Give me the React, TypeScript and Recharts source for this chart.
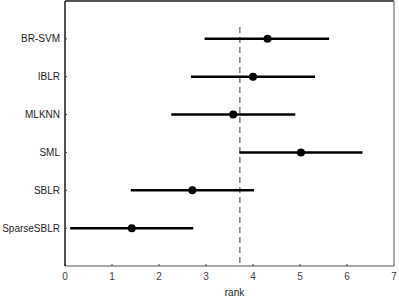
import React from 'react';
import {
  ScatterChart,
  Scatter,
  XAxis,
  YAxis,
  ErrorBar,
  ReferenceLine
} from 'recharts';

// methods, top to bottom
const methods = ['BR-SVM', 'IBLR', 'MLKNN', 'SML', 'SBLR', 'SparseSBLR'];
// mean rank (dot) and interval ends
const meanRank = [4.31, 4.0, 3.58, 5.02, 2.71, 1.42];
const lowerRank = [2.97, 2.68, 2.26, 3.71, 1.40, 0.11];
const upperRank = [5.62, 5.32, 4.90, 6.33, 4.02, 2.73];
const xTicks = [0, 1, 2, 3, 4, 5, 6, 7];
const yTicks = [1, 2, 3, 4, 5, 6];
// critical rank line, and where it starts/ends on the y scale
const criticalRank = 3.72;
const criticalSpan = [0.69, 7];

const FONT = '"Liberation Sans", Arial, sans-serif';
const TEXT = '#262626';

const App: React.FC = () => {
  const data = methods.map((name, i) => ({
    name,
    pos: i + 1,
    rank: meanRank[i],
    err: [meanRank[i] - lowerRank[i], upperRank[i] - meanRank[i]]
  }));

  const tickStyle = { fontSize: 10, fontFamily: FONT, fill: TEXT };

  return (
    <div style={{ position: 'absolute', left: 0, top: 0, background: '#fff' }}>
      <ScatterChart
        width={399}
        height={298}
        margin={{ top: 0, right: 4, left: 5, bottom: 2 }}
      >
        <XAxis
          type="number"
          dataKey="rank"
          domain={[0, 7]}
          ticks={xTicks}
          allowDataOverflow
          height={30}
          axisLine={{ stroke: '#8c8c8c', strokeWidth: 1.5 }}
          tickLine={{ stroke: '#404040' }}
          tickSize={-2}
          tickMargin={9}
          tick={{ ...tickStyle, fill: '#404040' }}
          label={{
            value: 'rank',
            position: 'insideBottom',
            offset: 0,
            dx: 5,
            style: { fontSize: 10, fontFamily: FONT, fill: TEXT }
          }}
        />
        <XAxis
          xAxisId="top"
          orientation="top"
          type="number"
          domain={[0, 7]}
          ticks={xTicks}
          height={1}
          axisLine={{ stroke: '#1a1a1a', strokeWidth: 1.5 }}
          tickLine={{ stroke: '#404040' }}
          tickSize={-3}
          tick={false}
        />
        <YAxis
          type="number"
          dataKey="pos"
          domain={[0, 7]}
          ticks={yTicks}
          reversed
          width={60}
          axisLine={{ stroke: '#1a1a1a', strokeWidth: 1.5 }}
          tickLine={{ stroke: '#404040' }}
          tickSize={-2}
          tickMargin={7}
          tick={tickStyle}
          tickFormatter={(v: number) => methods[v - 1] ?? ''}
        />
        <YAxis
          yAxisId="right"
          orientation="right"
          type="number"
          domain={[0, 7]}
          ticks={yTicks}
          reversed
          width={1}
          axisLine={{ stroke: '#8c8c8c', strokeWidth: 1.5 }}
          tickLine={{ stroke: '#404040' }}
          tickSize={-3}
          tick={false}
        />
        <ReferenceLine
          segment={[
            { x: criticalRank, y: criticalSpan[0] },
            { x: criticalRank, y: criticalSpan[1] }
          ]}
          stroke="#7f7f7f"
          strokeWidth={1.5}
          strokeDasharray="6 4"
        />
        <Scatter
          data={data}
          isAnimationActive={false}
          shape={(p: any) => <circle cx={p.cx} cy={p.cy} r={4} fill="#000" />}
        >
          <ErrorBar
            dataKey="err"
            direction="x"
            width={0}
            stroke="#000"
            strokeWidth={2.5}
            isAnimationActive={false}
          />
        </Scatter>
      </ScatterChart>
    </div>
  );
};

export default App;
